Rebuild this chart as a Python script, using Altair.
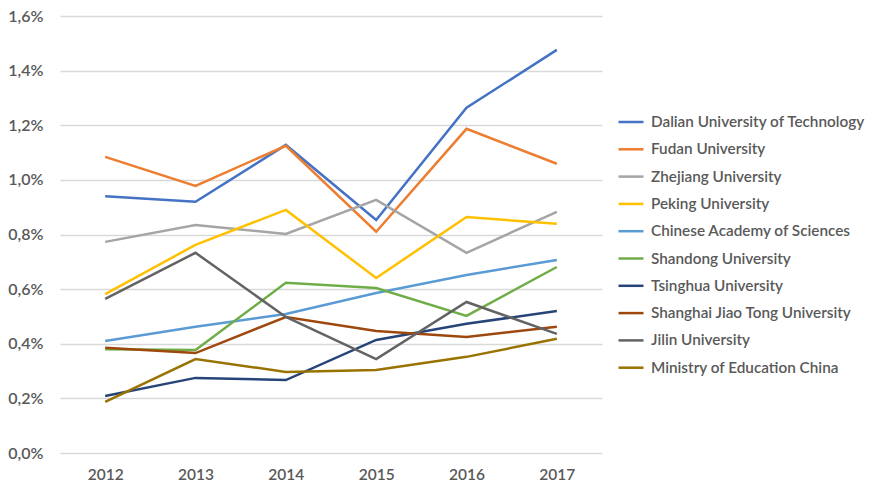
import altair as alt
import pandas as pd

years = ["2012", "2013", "2014", "2015", "2016", "2017"]
series = [
    "Dalian University of Technology",
    "Fudan University",
    "Zhejiang University",
    "Peking University",
    "Chinese Academy of Sciences",
    "Shandong University",
    "Tsinghua University",
    "Shanghai Jiao Tong University",
    "Jilin University",
    "Ministry of Education China",
]
colors = ["#4472C4", "#ED7D31", "#A5A5A5", "#FFC000", "#5B9BD5",
          "#70AD47", "#264478", "#9E480E", "#636363", "#997300"]

dalian = [0.94, 0.92, 1.128, 0.853, 1.264, 1.476]
fudan = [1.084, 0.978, 1.125, 0.81, 1.187, 1.059]
zhejiang = [0.773, 0.835, 0.802, 0.927, 0.733, 0.883]
peking = [0.582, 0.762, 0.89, 0.641, 0.864, 0.839]
cas = [0.41, 0.462, 0.509, 0.586, 0.652, 0.707]
shandong = [0.38, 0.377, 0.623, 0.604, 0.502, 0.681]
tsinghua = [0.209, 0.275, 0.267, 0.414, 0.473, 0.52]
sjtu = [0.385, 0.366, 0.498, 0.447, 0.425, 0.462]
jilin = [0.564, 0.733, 0.498, 0.344, 0.553, 0.436]
ministry = [0.187, 0.344, 0.297, 0.304, 0.352, 0.418]

values = [dalian, fudan, zhejiang, peking, cas, shandong, tsinghua, sjtu, jilin, ministry]

rows = []
for name, vals in zip(series, values):
    for y, v in zip(years, vals):
        rows.append({"year": y, "value": v, "series": name})
df = pd.DataFrame(rows)

FONT = "Lato"
TXT = "#595959"

chart = alt.Chart(df).mark_line(strokeWidth=2.5).encode(
    x=alt.X("year:O", sort=years, title=None,
            scale=alt.Scale(paddingOuter=0.5, padding=0.5),
            axis=alt.Axis(labelAngle=0, domain=False, ticks=False, grid=False,
                          labelFont=FONT, labelFontSize=15.5, labelColor=TXT,
                          labelFontWeight=600, labelPadding=14)),
    y=alt.Y("value:Q", title=None,
            scale=alt.Scale(domain=[0, 1.6], nice=False),
            axis=alt.Axis(values=[0, 0.2, 0.4, 0.6, 0.8, 1.0, 1.2, 1.4, 1.6],
                          labelExpr="replace(format(datum.value, '.1f'), '.', ',') + '%'",
                          domain=False, ticks=False, gridColor="#D9D9D9", gridWidth=1.3,
                          labelFont=FONT, labelFontSize=16, labelColor=TXT,
                          labelFontWeight=600, labelPadding=17)),
    color=alt.Color("series:N", sort=series, title=None,
                    scale=alt.Scale(domain=series, range=colors),
                    legend=alt.Legend(orient="none", legendX=557, legendY=92,
                                      symbolType="stroke", symbolSize=625,
                                      symbolStrokeWidth=2.5, labelOffset=6,
                                      labelFont=FONT, labelFontSize=15.3,
                                      labelFontWeight=600,
                                      labelColor=TXT, rowPadding=4.3,
                                      labelLimit=300)),
    detail="series:N",
).properties(
    width=542, height=437,
    autosize=alt.AutoSizeParams(type="none"),
    padding={"left": 52, "top": 8, "right": 263, "bottom": 30},
).configure_view(stroke=None)

chart.save("out.html", embed_options={"renderer": "svg", "actions": False})
